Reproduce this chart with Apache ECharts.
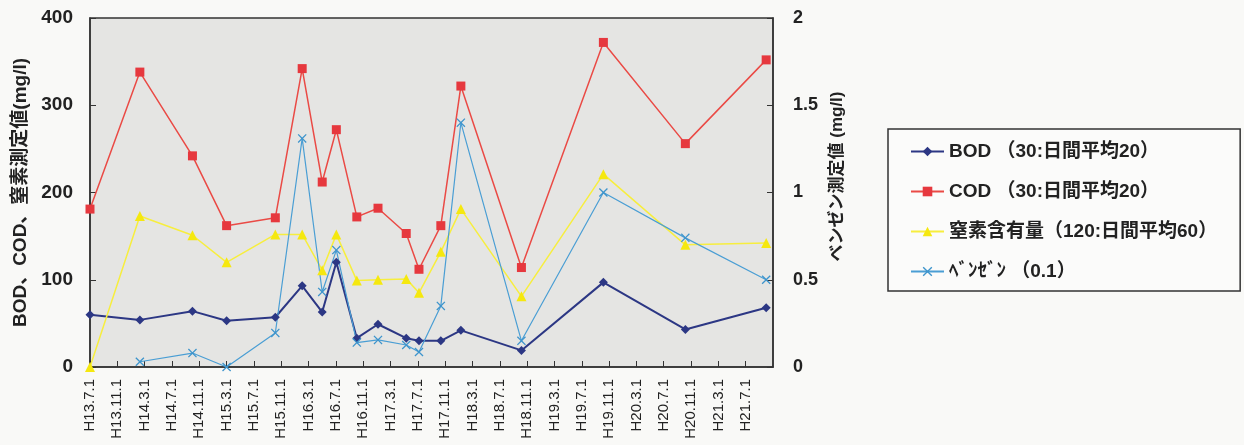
<!DOCTYPE html>
<html><head><meta charset="utf-8">
<script src="https://cdn.jsdelivr.net/npm/echarts@6/dist/echarts.min.js"></script>
<style>html,body{margin:0;padding:0;background:#f9f9f7;}#c{width:1244px;height:445px;}</style>
</head><body><div id="c"></div>
<script>
// sampling dates (approximate)
const sampleDates = ['2001-07-01','2002-02-10','2002-10-01','2003-03-01','2003-10-05','2004-02-03','2004-05-01','2004-07-03','2004-10-03','2005-01-06','2005-05-10','2005-07-06','2005-10-12','2006-01-10','2006-10-06','2007-10-06','2008-10-06','2009-10-01'];
const bodValues = [60,54,64,53,57,93,63,120,33,49,33,30,30,42,19,97,43,68];
const codValues = [181,338,242,162,171,342,212,272,172,182,153,112,162,322,114,372,256,352];
const nitrogenValues = [0,173,151,120,152,152,111,152,99,100,101,85,132,181,81,221,140,142];
const benzeneValues = [null,0.03,0.08,0.0,0.195,1.31,0.43,0.67,0.14,0.155,0.126,0.086,0.35,1.40,0.15,1.0,0.74,0.50];
const xTickLabels = ['H13.7.1','H13.11.1','H14.3.1','H14.7.1','H14.11.1','H15.3.1','H15.7.1','H15.11.1','H16.3.1','H16.7.1','H16.11.1','H17.3.1','H17.7.1','H17.11.1','H18.3.1','H18.7.1','H18.11.1','H19.3.1','H19.7.1','H19.11.1','H20.3.1','H20.7.1','H20.11.1','H21.3.1','H21.7.1'];
const leftTicks = ['0','100','200','300','400'];
const rightTicks = ['0','0.5','1','1.5','2'];
const seriesNames = ['BOD （30:日間平均20）','COD （30:日間平均20）','窒素含有量（120:日間平均60）','ﾍﾞﾝｾﾞﾝ （0.1）'];

function monthOffset(s){const [y,m,d]=s.split('-').map(Number);return (y-2001)*12+(m-7)+(d-1)/30;}
const xs = sampleDates.map(monthOffset);
const pair = arr => arr.map((v,i)=>[xs[i],v]);

const FONT = '"Liberation Sans","Noto Sans CJK JP",sans-serif';
const xSym = 'path://M0,1L1,0L5,4L9,0L10,1L6,5L10,9L9,10L5,6L1,10L0,9L4,5Z';

const chart = echarts.init(document.getElementById('c'));
chart.setOption({
  backgroundColor:'#f9f9f7',
  animation:false,
  textStyle:{fontFamily:FONT},
  grid:{left:90,right:471,top:18,bottom:78,show:true,backgroundColor:'#e5e5e3',borderColor:'#333',borderWidth:1.5},
  legend:{
    orient:'vertical',left:888,top:129,
    padding:[13,23,10,22],itemGap:21,itemWidth:33,itemHeight:12,
    borderColor:'#333',borderWidth:1.5,backgroundColor:'#fbfbfa',
    textStyle:{fontFamily:FONT,fontSize:19,fontWeight:'bold',color:'#222'},
    data:seriesNames
  },
  xAxis:{
    type:'value',min:0,max:100,interval:4,
    axisLine:{show:true,lineStyle:{color:'#333',width:1.5}},
    axisTick:{show:true,inside:true,length:6,lineStyle:{color:'#333'}},
    splitLine:{show:false},
    axisLabel:{rotate:90,margin:12,fontSize:15,color:'#222',fontFamily:FONT,showMaxLabel:false,
      formatter:v=>xTickLabels[Math.round(v/4)]||''}
  },
  yAxis:[
    {type:'value',min:0,max:400,interval:100,position:'left',
     name:'BOD、COD、窒素測定値(mg/l)',nameLocation:'middle',nameRotate:90,nameGap:57,
     nameTextStyle:{fontSize:19,fontWeight:'bold',color:'#222',fontFamily:FONT},
     axisLine:{show:true,lineStyle:{color:'#333',width:1.5}},
     axisTick:{show:true,inside:true,length:6,lineStyle:{color:'#333'}},
     splitLine:{show:false},
     axisLabel:{fontSize:19,fontWeight:'bold',color:'#222',margin:17,formatter:v=>leftTicks[Math.round(v/100)]}},
    {type:'value',min:0,max:2,interval:0.5,position:'right',
     name:'ベンゼン測定値 (mg/l)',nameLocation:'middle',nameRotate:90,nameGap:49,
     nameTextStyle:{fontSize:17,fontWeight:'bold',color:'#222',fontFamily:FONT,padding:[0,0,0,32]},
     axisLine:{show:true,lineStyle:{color:'#333',width:1.5}},
     axisTick:{show:true,inside:true,length:6,lineStyle:{color:'#333'}},
     splitLine:{show:false},
     axisLabel:{fontSize:18,fontWeight:'bold',color:'#222',margin:20,formatter:v=>rightTicks[Math.round(v/0.5)]}}
  ],
  series:[
    {name:seriesNames[0],type:'line',yAxisIndex:0,data:pair(bodValues),symbol:'diamond',symbolSize:9,
     lineStyle:{color:'#2c3784',width:2},itemStyle:{color:'#2c3784'}},
    {name:seriesNames[1],type:'line',yAxisIndex:0,data:pair(codValues),symbol:'rect',symbolSize:9,
     lineStyle:{color:'#ea4a45',width:1.5},itemStyle:{color:'#e6383e'}},
    {name:seriesNames[2],type:'line',yAxisIndex:0,data:pair(nitrogenValues),symbol:'triangle',symbolSize:10,
     lineStyle:{color:'#f7ee3e',width:1.5},itemStyle:{color:'#f5e80f'}},
    {name:seriesNames[3],type:'line',yAxisIndex:1,data:pair(benzeneValues),symbol:xSym,symbolSize:9,connectNulls:false,
     lineStyle:{color:'#4a9ed4',width:1.2},itemStyle:{color:'#3d94cc'}}
  ]
});
</script></body></html>
